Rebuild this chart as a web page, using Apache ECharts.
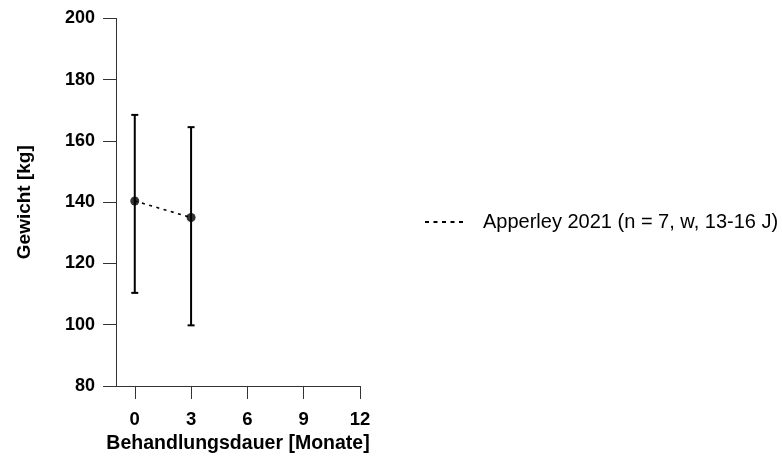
<!DOCTYPE html>
<html><head><meta charset="utf-8">
<script src="https://cdn.jsdelivr.net/npm/echarts@6/dist/echarts.min.js"></script>
<style>html,body{margin:0;padding:0;background:#fff}#c{width:782px;height:459px}</style>
</head><body><div id="c"></div>
<script>
const months = [0, 3];
const means = [140.4, 135.0];
const lowers = [110.4, 99.8];
const uppers = [168.5, 164.5];
const xTicks = [0, 3, 6, 9, 12];
const seriesName = 'Apperley 2021 (n = 7, w, 13-16 J)';

const chart = echarts.init(document.getElementById('c'), null, {renderer: 'canvas'});
const font = 'Liberation Sans, Arial, sans-serif';
const dottedIcon = 'path://M0,0h4v2h-4z M8.5,0h4v2h-4z M17,0h4v2h-4z M25.5,0h4v2h-4z M34,0h4v2h-4z';
chart.setOption({
  animation: false,
  grid: {left: 116, right: 422, top: 18.4, bottom: 73, containLabel: false},
  xAxis: {
    type: 'value', min: -1, max: 12,
    name: 'Behandlungsdauer [Monate]', nameLocation: 'middle', nameGap: 40,
    nameTextStyle: {fontFamily: font, fontWeight: 'bold', fontSize: 19.5, color: '#000'},
    axisLine: {show: true, onZero: false, lineStyle: {color: '#333', width: 1}},
    axisTick: {show: true, length: 13, lineStyle: {color: '#333', width: 1}, customValues: xTicks},
    axisLabel: {customValues: xTicks, fontFamily: font, fontWeight: 'bold', fontSize: 18.5, color: '#000', margin: 24},
    splitLine: {show: false}
  },
  yAxis: {
    type: 'value', min: 80, max: 200, interval: 20,
    name: 'Gewicht [kg]', nameLocation: 'middle', nameGap: 82,
    nameTextStyle: {fontFamily: font, fontWeight: 'bold', fontSize: 19, color: '#000'},
    axisLine: {show: true, onZero: false, lineStyle: {color: '#333', width: 1}},
    axisTick: {show: true, length: 13, lineStyle: {color: '#333', width: 1}},
    axisLabel: {fontFamily: font, fontWeight: 'bold', fontSize: 18, color: '#000', margin: 21},
    splitLine: {show: false}
  },
  legend: {
    left: 420, top: 207, orient: 'vertical',
    itemWidth: 38, itemHeight: 2,
    data: [{name: seriesName, icon: dottedIcon}],
    itemStyle: {color: '#000'},
    textStyle: {fontFamily: font, fontSize: 20, color: '#000', padding: [0, 0, 0, 15]}
  },
  series: [
    {
      type: 'custom', name: 'err', silent: true, z: 3,
      data: months.map((m, i) => [m, lowers[i], uppers[i]]),
      renderItem: function (params, api) {
        const x = api.value(0);
        const lo = api.coord([x, api.value(1)]);
        const hi = api.coord([x, api.value(2)]);
        const hw = 3.5;
        const st = {stroke: '#000', lineWidth: 2};
        return {type: 'group', children: [
          {type: 'line', shape: {x1: lo[0], y1: lo[1], x2: hi[0], y2: hi[1]}, style: st},
          {type: 'line', shape: {x1: lo[0] - hw, y1: lo[1], x2: lo[0] + hw, y2: lo[1]}, style: st},
          {type: 'line', shape: {x1: hi[0] - hw, y1: hi[1], x2: hi[0] + hw, y2: hi[1]}, style: st}
        ]};
      }
    },
    {
      type: 'line', name: seriesName, symbol: 'none', z: 2,
      data: months.map((m, i) => [m, means[i]]),
      lineStyle: {color: '#000', width: 1.6, type: [3, 4.5]},
      itemStyle: {color: '#000'}
    },
    {
      type: 'scatter', name: 'pts', symbol: 'circle', symbolSize: 9, z: 4,
      data: months.map((m, i) => [m, means[i]]),
      itemStyle: {color: '#000'}
    }
  ]
});
</script></body></html>
